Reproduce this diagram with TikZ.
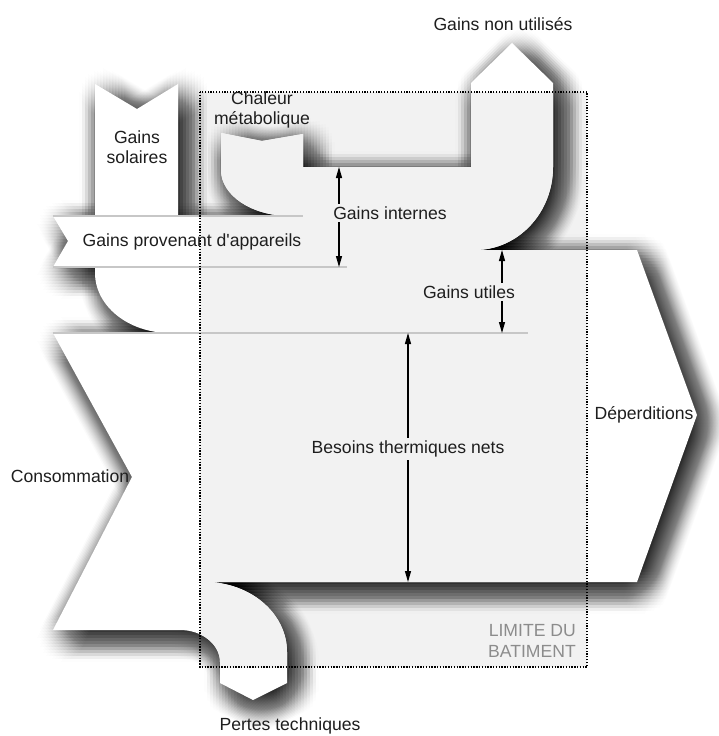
\documentclass[tikz,border=0pt]{standalone}
\usepackage{fontspec}
\setmainfont{Liberation Sans}
\newfontfamily\lsans{Liberation Sans}
\usetikzlibrary{arrows.meta}
\definecolor{bgin}{HTML}{F2F2F2}
\definecolor{txt}{HTML}{1E1E1E}
\begin{document}
\begin{tikzpicture}[x=1pt,y=-1pt,
  lbl/.style={font=\lsans\fontsize{17.6}{20.5}\selectfont, text=txt, inner sep=1pt, align=center},
  cutlbl/.style={lbl, fill=bgin, inner sep=3pt},
  dim/.style={line width=1.1pt, {Triangle[length=11pt,width=6pt]}-{Triangle[length=11pt,width=6pt]}},
  seam/.style={draw=black!22, line width=1.3pt},
  limit/.style={dash pattern=on 1.3pt off 1.5pt, line width=1.3pt},
  ]
\useasboundingbox (0,0) rectangle (718,736);
\fill[white] (0,0) rectangle (718,736);
\def\flowpath{(95,84) -- (137,109) -- (178,84) -- (178,216) -- (290,216)
  .. controls (251.9,216) and (221,195.4) .. (221,170) -- (221,133) -- (262,141)
  -- (303,134) -- (303,167) -- (471,167) -- (471,83) -- (512,43) -- (553,83)
  -- (553,167) .. controls (553,212.8) and (518.1,250) .. (475,250)
  -- (637,250) -- (697,415) -- (637,582) -- (205,582)
  .. controls (250.3,582) and (287,613.4) .. (287,652) -- (287,683) -- (253,700)
  -- (220,683) -- (220,662) .. controls (220,644.3) and (202.1,630) .. (180,630)
  -- (53,630) -- (132,477) -- (53,333) -- (170,333)
  .. controls (128.6,333) and (95,306.1) .. (95,273) -- (95,267) -- (53,267)
  -- (68,241) -- (53,216) -- (95,216) -- cycle}
% building zone background
\fill[bgin] (200,92) rectangle (587,667);
% soft shadow (disk blur of offset copies)
\foreach \i in {-8,...,8}{%
  \foreach \j in {-8,...,8}{%
    \pgfmathtruncatemacro\dd{\i*\i+\j*\j}%
    \ifnum\dd<65
      \pgfmathsetmacro\sx{3*\i+8}%
      \pgfmathsetmacro\sy{3*\j+8}%
      \begin{scope}[shift={(\sx,\sy)}]
        \fill[black, fill opacity=0.0096] \flowpath;
      \end{scope}
    \fi}}
% flows
\fill[white] \flowpath;
\begin{scope}
  \clip (200,92) rectangle (587,667);
  \fill[bgin] \flowpath;
\end{scope}
% seams
\coordinate (s1a) at (53,216); \coordinate (s1b) at (303,216);
\coordinate (s2a) at (53,267); \coordinate (s2b) at (347,267);
\coordinate (s3a) at (53,333); \coordinate (s3b) at (528,333);
\draw[seam] (s1a) -- (s1b);
\draw[seam] (s2a) -- (s2b);
\draw[seam] (s3a) -- (s3b);
% dimension arrows
\coordinate (gi-top) at (339,167); \coordinate (gi-bot) at (339,267);
\coordinate (gu-top) at (502,250); \coordinate (gu-bot) at (502,333);
\coordinate (bt-top) at (408,333); \coordinate (bt-bot) at (408,582);
\draw[dim] (gi-top) -- (gi-bot);
\draw[dim] (gu-top) -- (gu-bot);
\draw[dim] (bt-top) -- (bt-bot);
\node[cutlbl] (n-internes) at (390,213) {Gains internes};
\node[cutlbl] (n-utiles) at (469,292) {Gains utiles};
\node[cutlbl] (n-besoins) at (408,449) {Besoins thermiques nets};
% building limit
\draw[limit] (200,92) rectangle (587,667);
% labels
\node[lbl] (n-nonutil) at (503,24) {Gains non utilisés};
\node[lbl] (n-chaleur) at (262,110) {Chaleur\\métabolique};
\node[lbl] (n-solaires) at (137,147) {Gains\\solaires};
\node[lbl] (n-appareils) at (192,242) {Gains provenant d'appareils};
\node[lbl] (n-conso) at (70,476) {Consommation};
\node[lbl] (n-deperd) at (644,415) {Déperditions};
\node[lbl] (n-pertes) at (290,726) {Pertes techniques};
\node[lbl, text=black!45, align=right, anchor=east] (n-limite) at (577,641) {LIMITE DU\\BATIMENT};
\end{tikzpicture}
\end{document}
